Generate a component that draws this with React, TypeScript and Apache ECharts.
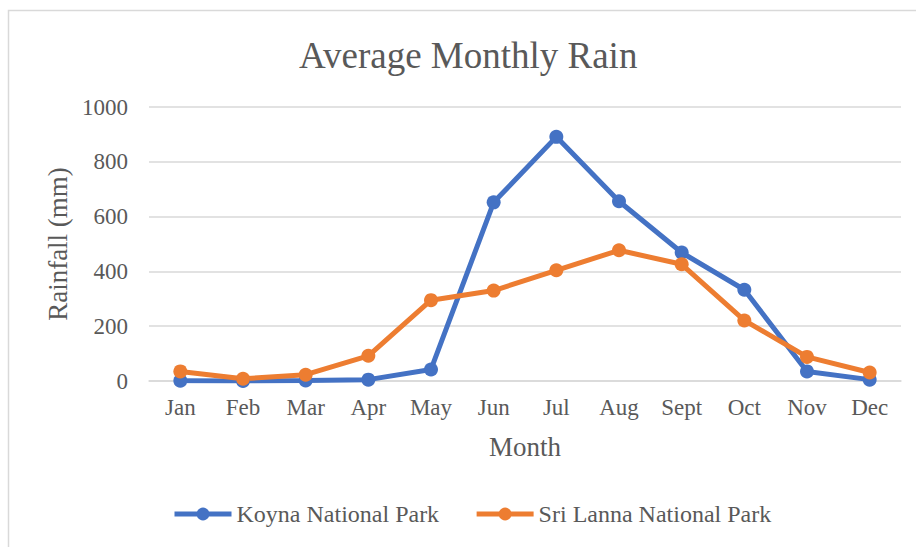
import React, { useEffect, useRef } from "react";
import * as echarts from "echarts";

const months = ["Jan", "Feb", "Mar", "Apr", "May", "Jun", "Jul", "Aug", "Sept", "Oct", "Nov", "Dec"];
const koyna = [1, 0, 2, 5, 42, 652, 891, 656, 469, 333, 35, 5];
const sriLanna = [35, 8, 23, 92, 295, 330, 404, 477, 426, 221, 88, 31];
const seriesNames = ["Koyna National Park", "Sri Lanna National Park"];

const FONT = "'Liberation Serif', 'Times New Roman', serif";
const TXT = "#595959";

export default function App() {
  const ref = useRef<HTMLDivElement>(null);
  useEffect(() => {
    document.body.style.margin = "0";
    const chart = echarts.init(ref.current!, null, { renderer: "svg" });
    chart.setOption({
      animation: false,
      backgroundColor: "#ffffff",
      graphic: [
        {
          type: "rect",
          shape: { x: 8.5, y: 10.5, width: 1200, height: 1200 },
          style: { fill: "none", stroke: "#d9d9d9", lineWidth: 1.5 },
          silent: true,
        },
      ],
      title: {
        text: "Average Monthly Rain",
        left: 294,
        top: 32,
        textStyle: { fontFamily: FONT, fontSize: 37, fontWeight: "normal", color: TXT },
      },
      grid: { left: 149, right: 15, top: 107, bottom: 166, containLabel: false },
      legend: {
        bottom: 16,
        left: 167,
        itemWidth: 57,
        itemHeight: 16,
        itemGap: 35,
        lineStyle: { width: 5 },
        textStyle: { fontFamily: FONT, fontSize: 24, color: TXT },
        data: seriesNames,
      },
      xAxis: {
        type: "category",
        data: months,
        boundaryGap: true,
        name: "Month",
        nameLocation: "middle",
        nameGap: 52,
        nameTextStyle: { fontFamily: FONT, fontSize: 27, color: TXT },
        axisLine: { lineStyle: { color: "#d9d9d9", width: 1.5 } },
        axisTick: { show: false },
        axisLabel: { fontFamily: FONT, fontSize: 23, color: TXT, margin: 15 },
      },
      yAxis: {
        type: "value",
        min: 0,
        max: 1000,
        interval: 200,
        name: "Rainfall (mm)",
        nameLocation: "middle",
        nameGap: 74,
        nameTextStyle: { fontFamily: FONT, fontSize: 27, color: TXT },
        axisLine: { show: false },
        axisTick: { show: false },
        axisLabel: {
          fontFamily: FONT,
          fontSize: 23,
          color: TXT,
          margin: 21,
          formatter: (v: number) => String(v),
        },
        splitLine: { lineStyle: { color: "#d9d9d9", width: 1.5 } },
      },
      series: [
        {
          name: seriesNames[0],
          type: "line",
          data: koyna,
          symbol: "circle",
          symbolSize: 14,
          lineStyle: { color: "#4472C4", width: 5 },
          itemStyle: { color: "#4472C4" },
        },
        {
          name: seriesNames[1],
          type: "line",
          data: sriLanna,
          symbol: "circle",
          symbolSize: 14,
          lineStyle: { color: "#ED7D31", width: 5 },
          itemStyle: { color: "#ED7D31" },
        },
      ],
    });
    return () => chart.dispose();
  }, []);
  return <div ref={ref} style={{ width: 916, height: 547 }} />;
}
